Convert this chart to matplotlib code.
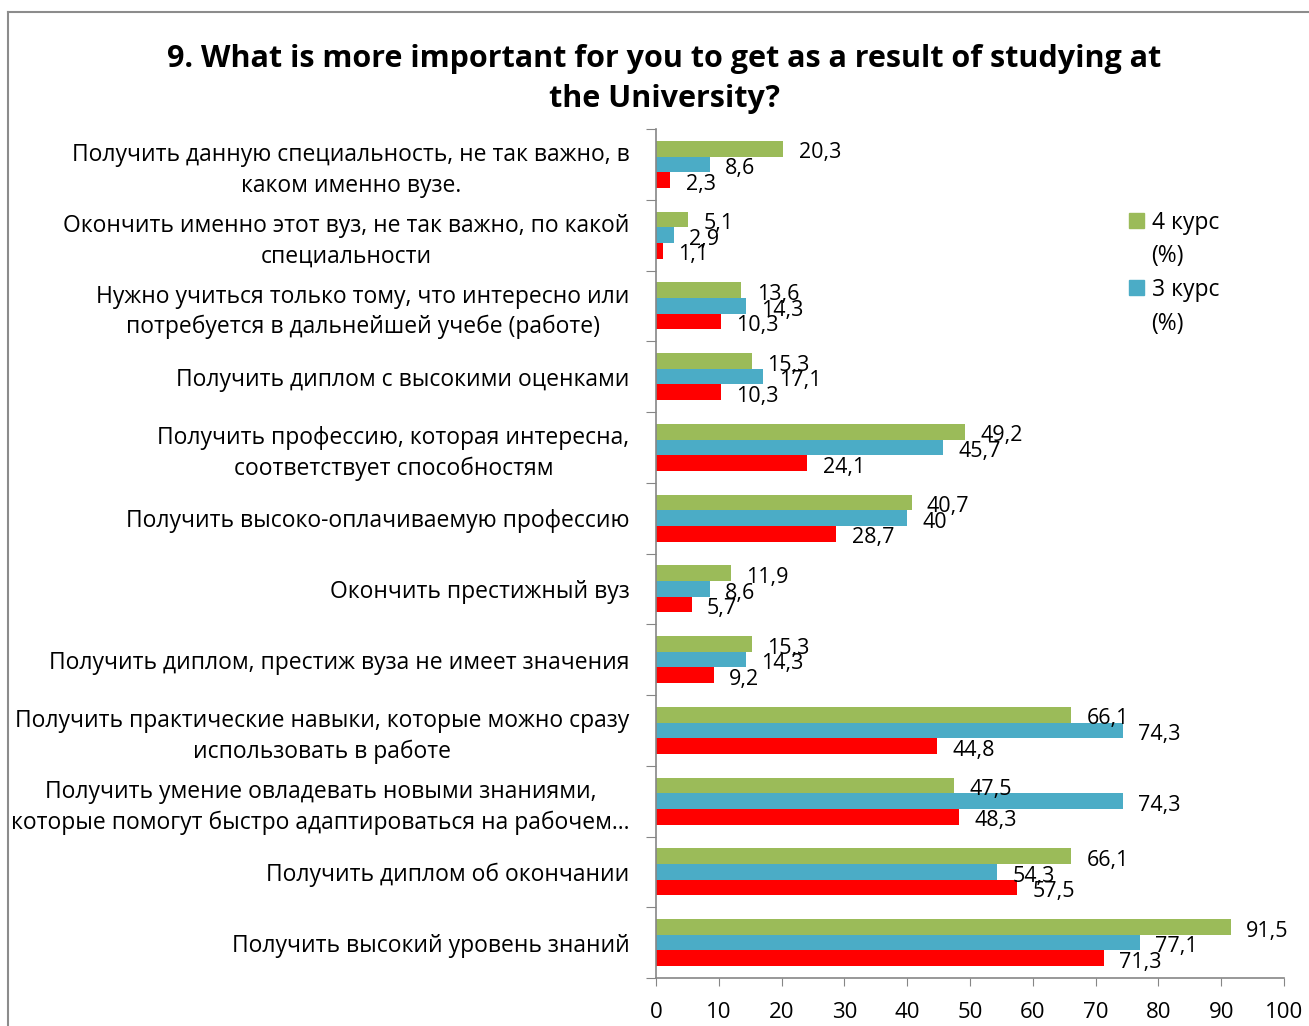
import numpy as np
import matplotlib.pyplot as plt
from matplotlib.lines import Line2D
from matplotlib.patches import Patch

plt.rcParams['font.family'] = ['Open Sans', 'DejaVu Sans']

# Survey answers, top to bottom
categories = [
    'Получить данную специальность, не так важно, в\nкаком именно вузе.',
    'Окончить именно этот вуз, не так важно, по какой\nспециальности',
    'Нужно учиться только тому, что интересно или\nпотребуется в дальнейшей учебе (работе)',
    'Получить диплом с высокими оценками',
    'Получить профессию, которая интересна,\nсоответствует способностям',
    'Получить высоко-оплачиваемую профессию',
    'Окончить престижный вуз',
    'Получить диплом, престиж вуза не имеет значения',
    'Получить практические навыки, которые можно сразу\nиспользовать в работе',
    'Получить умение овладевать новыми знаниями,\nкоторые помогут быстро адаптироваться на рабочем…',
    'Получить диплом об окончании',
    'Получить высокий уровень знаний',
]
course4 = [20.3, 5.1, 13.6, 15.3, 49.2, 40.7, 11.9, 15.3, 66.1, 47.5, 66.1, 91.5]
course3 = [8.6, 2.9, 14.3, 17.1, 45.7, 40.0, 8.6, 14.3, 74.3, 74.3, 54.3, 77.1]
course2 = [2.3, 1.1, 10.3, 10.3, 24.1, 28.7, 5.7, 9.2, 44.8, 48.3, 57.5, 71.3]

series = [
    ('4 курс', course4, '#9BBB59'),
    ('3 курс', course3, '#4BACC6'),
    ('2 курс', course2, '#FF0000'),
]

fig = plt.figure(figsize=(13.09, 10.26), dpi=100)
ax = fig.add_axes([656 / 1309, 1 - 978 / 1026, 628 / 1309, 849 / 1026])

n = len(categories)
centers = np.arange(n) + 0.5
h = 0.222
offsets = [-h, 0, h]

for (name, vals, color), off in zip(series, offsets):
    y = centers + off
    ax.barh(y, vals, height=h, color=color, label=name)
    for yi, v in zip(y, vals):
        txt = f'{v:g}'.replace('.', ',')
        ax.annotate(txt, (v, yi), xytext=(11, -3), textcoords='offset points',
                    ha='left', va='center', fontsize=15.5)

ax.set_xlim(0, 100)
ax.set_ylim(n, 0)
ax.set_xticks(np.arange(0, 101, 10))
ax.tick_params(axis='x', length=6, color='#868686', labelsize=16, pad=11)

# boundaries get tick marks, centers get the labels
ax.set_yticks(np.arange(n + 1))
ax.set_yticklabels([])
ax.tick_params(axis='y', which='major', length=7, color='#868686')
ax.set_yticks(centers, minor=True)
ax.set_yticklabels(categories, minor=True, fontsize=16.5, ha='right',
                   multialignment='center', linespacing=1.35)
ax.tick_params(axis='y', which='minor', length=0, pad=19)

for s in ('top', 'right'):
    ax.spines[s].set_visible(False)
for s in ('left', 'bottom'):
    ax.spines[s].set_color('#868686')
    ax.spines[s].set_linewidth(1.2)

# legend: the square sits on the first line, "(%)" wraps below it
handles, labels = [], []
for nm, _, c in series[:2]:
    handles += [Patch(color=c), Patch(color='none')]
    labels += [nm, '(%)']
leg = fig.legend(handles, labels, loc='upper left',
                 bbox_to_anchor=(1108 / 1309, 1 - 190 / 1026),
                 frameon=False, fontsize=16.5, handlelength=0.65, handleheight=0.65,
                 handletextpad=0.35, labelspacing=0.42)

fig.text(664 / 1309, 1 - 79 / 1026,
         '9. What is more important for you to get as a result of studying at\nthe University?',
         ha='center', va='center', fontsize=22, fontweight='bold', linespacing=1.45)

# chart frame
fig.add_artist(Line2D([8 / 1309, 8 / 1309], [0, 1 - 12 / 1026], color='#8c8c8c', lw=1.5))
fig.add_artist(Line2D([8 / 1309, 1], [1 - 12 / 1026, 1 - 12 / 1026], color='#8c8c8c', lw=1.5))

fig.savefig('out.png', dpi=100)
